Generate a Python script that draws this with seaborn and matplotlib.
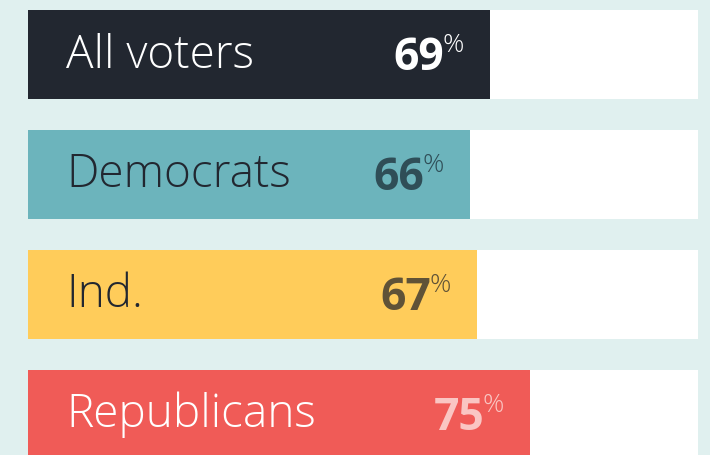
import matplotlib
matplotlib.use("Agg")
import matplotlib.pyplot as plt
import seaborn as sns
import pandas as pd

# Data
groups = ["All voters", "Democrats", "Ind.", "Republicans"]
values = [69, 66, 67, 75]
bar_colors = ["#222730", "#6cb4bc", "#ffcc5a", "#f05b57"]
label_colors = ["#ffffff", "#222730", "#222730", "#ffffff"]
number_colors = ["#ffffff", "#2f4e57", "#5f5237", "#fac6c3"]

BG = "#e0f0ef"
W, H, DPI = 7.10, 4.56, 100
PX = 6.7  # pixels per percentage point

sns.set_theme(style="white")
plt.rcParams["font.family"] = ["Open Sans", "DejaVu Sans"]

df = pd.DataFrame({"group": groups, "value": values, "total": [100] * len(groups)})

fig = plt.figure(figsize=(W, H), dpi=DPI, facecolor=BG)
ax = fig.add_axes([0, 0, 1, 1])
ax.set_facecolor(BG)

bw = 89 / 120
sns.barplot(data=df, y="group", x="total", order=groups, color="white",
            width=bw, saturation=1, ax=ax, orient="h", linewidth=0)
sns.barplot(data=df, y="group", x="value", order=groups, hue="group",
            palette=bar_colors, hue_order=groups, legend=False,
            width=bw, saturation=1, ax=ax, orient="h", linewidth=0)

# axes limits mapped to pixels
ax.set_xlim(-28 / PX, (710 - 28) / PX)
ax.set_ylim((456 - 55.5) / 120, -55.5 / 120)
ax.axis("off")

for i, (g, v) in enumerate(zip(groups, values)):
    ax.text((66 - 28) / PX, i + 12 / 120, g, color=label_colors[i],
            fontsize=33, fontweight="light", va="baseline", ha="left")
    num_end = v - 46 / PX
    ax.text(num_end, i + 15 / 120, f"{v}", color=number_colors[i],
            fontsize=32, fontweight="bold", va="baseline", ha="right")
    ax.text(num_end - 1.5 / PX, i - 22 / 120, "%", color=number_colors[i],
            fontsize=19, fontweight="light", va="top", ha="left")

fig.savefig("out.png", dpi=DPI, facecolor=BG)
